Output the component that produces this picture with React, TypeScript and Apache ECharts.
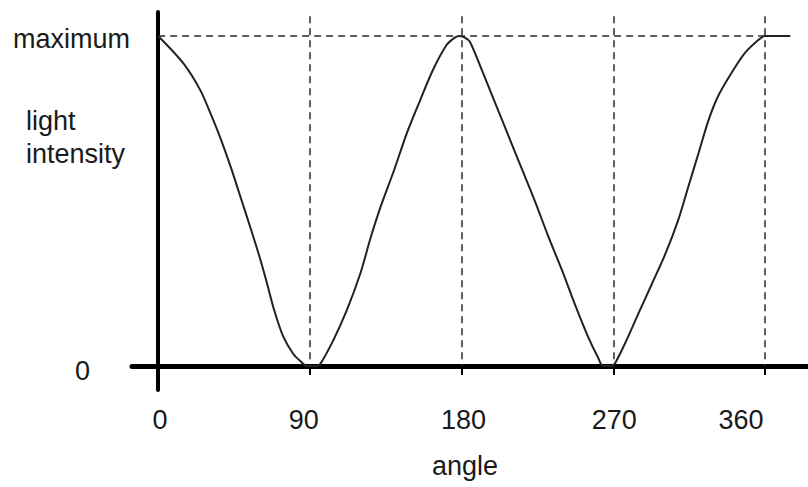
import React, { useEffect, useRef } from "react";
import * as echarts from "echarts";

// curve samples: angle (degrees) and light intensity (1 = maximum)
const angles = [
  0, 15, 25, 31, 37, 43, 49, 55, 60.5, 64.5, 68.5, 74, 80, 85, 88, 93, 96, 104, 112, 120, 126, 132, 140,
  147.5, 155.5, 163, 171, 176, 179, 182, 185, 192, 200, 208, 216, 224, 231.5, 239.5, 247, 255, 261, 264,
  269, 271, 277, 285, 293, 301, 308.5, 314.5, 320.5, 326.5, 332, 340, 348, 356, 360, 368, 375,
];
const intensity = [
  1.0, 0.917, 0.836, 0.766, 0.69, 0.604, 0.51, 0.415, 0.325, 0.252, 0.175, 0.092, 0.038, 0.012, 0.0, 0.0,
  0.005, 0.079, 0.17, 0.281, 0.388, 0.483, 0.594, 0.705, 0.806, 0.897, 0.972, 0.995, 1.0, 0.995, 0.982,
  0.897, 0.796, 0.695, 0.594, 0.493, 0.392, 0.291, 0.19, 0.089, 0.025, 0.0, 0.0, 0.008, 0.069, 0.16, 0.25,
  0.341, 0.442, 0.543, 0.644, 0.745, 0.816, 0.887, 0.948, 0.988, 1.0, 1.0, 1.0,
];

const xTickValues = [0, 90, 180, 270, 360];
const xTickLabels = ["0", "90", "180", "270", "360"];
const xTickMarks = [90, 180, 270, 360];
const yTickValues = [0, 1];
const yTickLabels = ["0", "maximum"];
const guideAngles = [90, 180, 270, 360];
const maxLevel = 1;
const xName = "angle";
const yName = "light\nintensity";

const FONT = "'Liberation Sans', Arial, sans-serif";
const TXT = "#1a1a1a";

export default function App() {
  const ref = useRef<HTMLDivElement>(null);

  useEffect(() => {
    if (!ref.current) return;
    const chart = echarts.init(ref.current, null, { renderer: "svg" });
    const data = angles.map((a, i) => [a, intensity[i]]);
    const xRichKeys = ["x0", "x90", "x180", "x270", "x360"];
    const yRichKeys = ["yzero", "ymax"];

    const dashStyle = { type: [7, 5] as number[], color: "#2a2a2a", width: 1.5 };

    chart.setOption({
      animation: false,
      backgroundColor: "#fff",
      grid: {
        left: 132,
        right: 0,
        top: 12,
        bottom: 97,
        containLabel: false,
        outerBoundsMode: "none",
      },
      xAxis: {
        type: "value",
        min: -15.5,
        max: 385.5,
        name: xName,
        nameLocation: "middle",
        nameGap: 62,
        nameTextStyle: { color: TXT, fontSize: 27, fontFamily: FONT, padding: [0, 10, 0, 0] },
        axisLine: { onZero: true, lineStyle: { color: "#000", width: 5 } },
        axisTick: {
          show: true,
          customValues: xTickMarks,
          length: 9,
          lineStyle: { color: "#000", width: 2 },
        },
        axisLabel: {
          customValues: xTickValues,
          margin: 16,
          color: TXT,
          fontSize: 27,
          fontFamily: FONT,
          formatter: (v: number) => {
            const i = xTickValues.indexOf(v);
            return i < 0 ? "" : `{${xRichKeys[i]}|${xTickLabels[i]}}`;
          },
          rich: {
            x0: { padding: [0, 0, 0, 4], fontSize: 27, fontFamily: FONT, color: TXT },
            x90: { padding: [0, 12, 0, 0], fontSize: 27, fontFamily: FONT, color: TXT },
            x180: { padding: [0, 0, 0, 4], fontSize: 27, fontFamily: FONT, color: TXT },
            x270: { padding: [0, 0, 0, 2], fontSize: 27, fontFamily: FONT, color: TXT },
            x360: { padding: [0, 48, 0, 0], fontSize: 27, fontFamily: FONT, color: TXT },
          },
        },
        splitLine: { show: false },
      },
      yAxis: {
        type: "value",
        min: -0.0727,
        max: 1.0727,
        axisLine: { onZero: true, lineStyle: { color: "#000", width: 4 } },
        axisTick: { show: false },
        axisLabel: {
          customValues: yTickValues,
          margin: 2,
          color: TXT,
          fontSize: 27,
          fontFamily: FONT,
          formatter: (v: number) => {
            const i = yTickValues.indexOf(v);
            return i < 0 ? "" : `{${yRichKeys[i]}|${yTickLabels[i]}}`;
          },
          rich: {
            yzero: { padding: [10, 40, 0, 0], fontSize: 27, fontFamily: FONT, color: TXT },
            ymax: { padding: [6, 0, 0, 0], fontSize: 27, fontFamily: FONT, color: TXT },
          },
        },
        splitLine: { show: false },
      },
      graphic: [
        {
          type: "text",
          left: 26,
          top: 104,
          style: {
            text: yName,
            fill: TXT,
            font: `27px ${FONT}`,
            lineHeight: 33,
            align: "left",
          },
        },
      ],
      series: [
        {
          type: "line",
          data,
          smooth: 0.3,
          symbol: "none",
          lineStyle: { color: "#222", width: 2 },
          z: 3,
          markLine: {
            silent: true,
            symbol: "none",
            label: { show: false },
            lineStyle: dashStyle,
            data: [
              ...guideAngles.map((a) => [{ coord: [a, 1.06] }, { coord: [a, 0] }]),
              [{ coord: [0, maxLevel] }, { coord: [360, maxLevel] }],
            ],
          },
        },
      ],
    });
    return () => chart.dispose();
  }, []);

  return (
    <div
      ref={ref}
      style={{ position: "absolute", left: 0, top: 0, width: 808, height: 487, background: "#fff" }}
    />
  );
}
